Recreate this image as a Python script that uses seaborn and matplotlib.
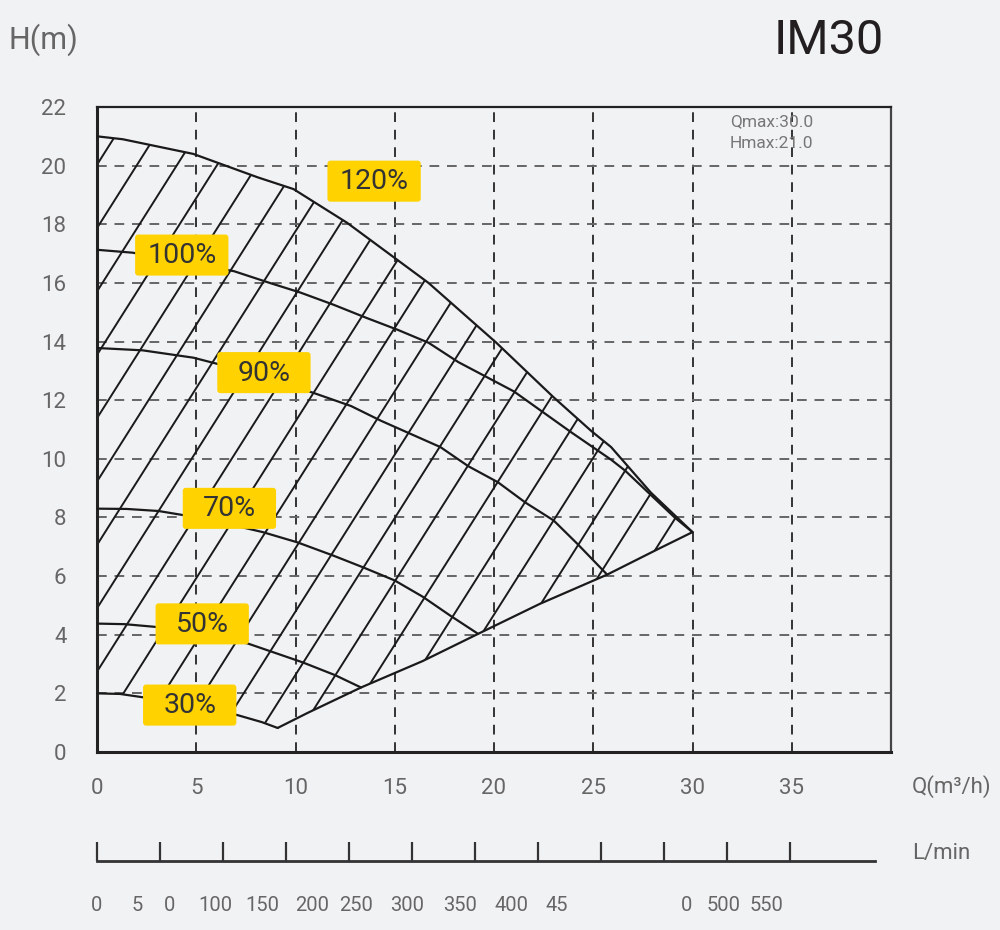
import numpy as np
import pandas as pd
import matplotlib
matplotlib.use("Agg")
import matplotlib.pyplot as plt
from matplotlib.patches import Polygon, FancyBboxPatch
import seaborn as sns

# pump curves (Q in m3/h, H in m)
q120 = [0, 1.3, 4.85, 8.1, 9.9, 12.6, 15.3, 16.7, 20.1, 23.0, 24.9, 25.9, 27.9, 30.0]
h120 = [21.0, 20.9, 20.4, 19.6, 19.2, 18.05, 16.7, 16.0, 13.97, 12.1, 10.95, 10.4, 8.85, 7.5]

q100 = [0, 1.8, 6.9, 8.7, 10.25, 11.9, 13.6, 15.15, 16.7, 18.2, 21.0, 23.9, 25.9, 26.6, 29.1, 30.0]
h100 = [17.13, 17.03, 16.4, 16.0, 15.67, 15.26, 14.8, 14.4, 13.96, 13.3, 12.3, 10.9, 9.97, 9.6, 8.0, 7.5]

q90 = [0, 2.3, 4.85, 8.0, 10.9, 12.8, 14.3, 15.8, 17.3, 18.7, 20.2, 21.6, 23.0, 24.2, 25.7]
h90 = [13.78, 13.7, 13.45, 12.9, 12.25, 11.8, 11.3, 10.85, 10.4, 9.75, 9.2, 8.5, 7.9, 7.1, 6.05]

q70 = [0, 1.5, 3.1, 5.5, 8.35, 10.1, 11.9, 13.4, 15.0, 16.4, 17.8, 19.2]
h70 = [8.3, 8.29, 8.22, 7.95, 7.5, 7.15, 6.7, 6.3, 5.85, 5.3, 4.65, 4.03]

q50 = [0, 1.4, 2.9, 5.2, 7.6, 10.35, 12.0, 13.3]
h50 = [4.38, 4.36, 4.27, 4.05, 3.7, 3.06, 2.62, 2.2]

q30 = [0, 1.16, 4.0, 7.07, 8.3, 9.1]
h30 = [2.0, 1.98, 1.7, 1.26, 1.02, 0.82]

# lower limit line
q_low = [9.1, 10.6, 13.3, 16.4, 19.2, 22.3, 25.7, 28.2, 30.0]
h_low = [0.82, 1.33, 2.2, 3.1, 4.03, 5.05, 6.05, 6.9, 7.5]

# speed labels
speed_names = ["120%", "100%", "90%", "70%", "50%", "30%"]
speed_q = [13.96, 4.27, 8.41, 6.67, 5.3, 4.67]
speed_h = [19.47, 16.95, 12.94, 8.31, 4.37, 1.6]

q_ticks = [0, 5, 10, 15, 20, 25, 30, 35]
h_ticks = [0, 2, 4, 6, 8, 10, 12, 14, 16, 18, 20, 22]

# L/min scale (labels as printed, slightly garbled in the original)
lmin_ticks = [0, 50, 100, 150, 200, 250, 300, 350, 400, 450, 500, 550]
lmin_labels = ["0", "5", "0", "100", "150", "200", "250", "300", "350", "400", "45", "0", "500", "550"]
lmin_label_pos = [0, 31.7, 57.9, 94, 131, 171, 206, 246, 288, 329, 365, 468, 497, 531]

BG = "#F1F2F4"
YELLOW = "#FFD200"
GRAY = "#666666"

sns.set_theme(style="white")
plt.rcParams["font.family"] = ["Roboto", "DejaVu Sans"]

fig = plt.figure(figsize=(10, 9.3), dpi=100, facecolor=BG)
ax = fig.add_axes([0.097, 1 - 752 / 930, 0.794, (752 - 107) / 930])
ax.set_facecolor(BG)

curves = []
for name, q, h in [("120", q120, h120), ("100", q100, h100), ("90", q90, h90),
                   ("70", q70, h70), ("50", q50, h50), ("30", q30, h30), ("low", q_low, h_low)]:
    curves.append(pd.DataFrame({"Q": q, "H": h, "curve": name}))
df = pd.concat(curves, ignore_index=True)

sns.lineplot(data=df, x="Q", y="H", units="curve", estimator=None, sort=False,
             color="#1a1a1a", linewidth=1.6, ax=ax, zorder=3)

# hatched operating area
outline = ([(0, h30[0]), (0, h120[0])] + list(zip(q120, h120))
           + list(zip(q_low[::-1], h_low[::-1])) + list(zip(q30[::-1], h30[::-1])))
area = Polygon(outline, closed=True, facecolor="none", edgecolor="none")
ax.add_patch(area)
hatch_slope = 1.07
hatch_step = 2.02
hatch_start = -8.62
qq = np.array([-30.0, 45.0])
for k in range(-8, 22):
    c = hatch_start + hatch_step * k
    ln, = ax.plot(qq, hatch_slope * (qq - c), color="#1a1a1a", linewidth=1.4, zorder=2)
    ln.set_clip_path(area)

# label boxes
bw, bh = 4.7, 1.4
for name, q, h in zip(speed_names, speed_q, speed_h):
    box = FancyBboxPatch((q - bw / 2, h - bh / 2), bw, bh,
                         boxstyle="round,pad=0,rounding_size=0.15", mutation_aspect=0.68,
                         facecolor=YELLOW, edgecolor="none", zorder=4)
    ax.add_patch(box)
    ax.text(q, h - 0.02, name, ha="center", va="center", fontsize=20.5,
            color="#333333", zorder=5)

ax.set_xlim(0, 40)
ax.set_ylim(0, 22)
ax.set_xticks(q_ticks)
ax.set_yticks(h_ticks)
ax.set_xlabel("")
ax.set_ylabel("")
ax.tick_params(axis="both", length=0, labelsize=16, labelcolor=GRAY)
ax.tick_params(axis="x", pad=19)
ax.tick_params(axis="y", pad=22)
ax.set_axisbelow(True)
ax.grid(axis="x", color="#333333", linestyle=(0, (5, 4)), linewidth=1.4)
ax.grid(axis="y", color="#666666", linestyle=(0, (5, 4)), linewidth=1.4)
for side in ["left", "bottom"]:
    ax.spines[side].set_color("#222222")
    ax.spines[side].set_linewidth(2.2)
ax.spines["top"].set_color("#222222")
ax.spines["top"].set_linewidth(1.6)
ax.spines["right"].set_color("#444444")
ax.spines["right"].set_linewidth(1.6)

# L/min scale
ax2 = fig.add_axes([0.097, 1 - 861 / 930, 0.778, 0.05])
ax2.set_facecolor("none")
ax2.set_xlim(0, 617.5)
ax2.set_ylim(0, 1)
for side in ["left", "top", "right"]:
    ax2.spines[side].set_visible(False)
ax2.spines["bottom"].set_color("#333333")
ax2.spines["bottom"].set_linewidth(2)
ax2.set_xticks(lmin_ticks)
ax2.set_xticklabels([])
ax2.set_yticks([])
ax2.tick_params(axis="x", bottom=True, direction="in", length=14, width=1.6, color="#333333")
for lab, pos in zip(lmin_labels, lmin_label_pos):
    ax2.text(pos, -(905 - 861) / (0.05 * 930), lab, transform=ax2.get_xaxis_transform(),
             ha="center", va="center", fontsize=14.5, color=GRAY)

# titles and axis names
fig.text(43 / 1000, 1 - 40 / 930, "H(m)", ha="center", va="center", fontsize=22, color=GRAY)
fig.text(829 / 1000, 1 - 41 / 930, "IM30", ha="center", va="center", fontsize=35, color="#231f20")
fig.text(730 / 1000, 1 - 122 / 930, "Qmax:30.0", ha="left", va="center", fontsize=12.5, color="#777777")
fig.text(730 / 1000, 1 - 144 / 930, "Hmax:21.0", ha="left", va="center", fontsize=12.5, color="#777777")
fig.text(912 / 1000, 1 - 787 / 930, "Q(m³/h)", ha="left", va="center", fontsize=16, color=GRAY)
fig.text(912 / 1000, 1 - 853 / 930, "L/min", ha="left", va="center", fontsize=16, color=GRAY)

fig.savefig("out.png", dpi=100, facecolor=BG)
